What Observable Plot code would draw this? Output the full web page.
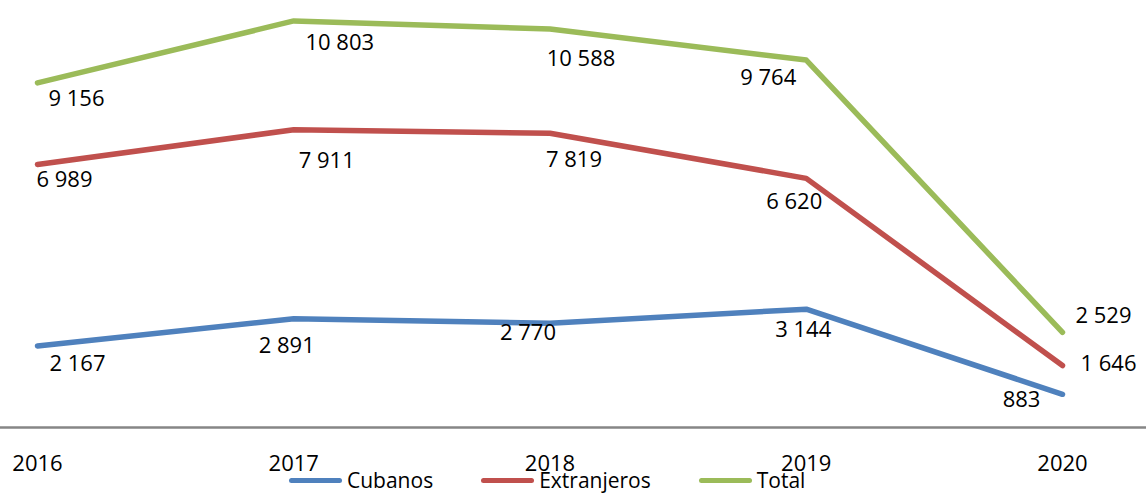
<!DOCTYPE html>
<html>
<head>
<meta charset="utf-8">
<script src="https://cdn.jsdelivr.net/npm/d3@7"></script>
<script src="https://cdn.jsdelivr.net/npm/@observablehq/plot@0.6"></script>
<style>
  html, body { margin: 0; padding: 0; background: #fff; }
  #wrap { position: relative; width: 1146px; height: 494px; overflow: hidden; font-family: "Open Sans", sans-serif; }
  #legend { position: absolute; top: 469px; left: 289px; display: flex; align-items: center; font-size: 21px; color: #000; line-height: 22px; }
  #legend .item { display: flex; align-items: center; margin-right: 48px; }
  #legend .sw { width: 53px; height: 5px; border-radius: 3px; margin-right: 5px; }
</style>
</head>
<body>
<div id="wrap"><div id="legend"></div></div>
<script>
const years = [2016, 2017, 2018, 2019, 2020];
const seriesNames = ["Cubanos", "Extranjeros", "Total"];
const cubanos = [2167, 2891, 2770, 3144, 883];
const extranjeros = [6989, 7911, 7819, 6620, 1646];
const total = [9156, 10803, 10588, 9764, 2529];
const colors = ["#4F81BD", "#C0504D", "#9BBB59"];

// label offsets (style only), [dx, dy] per series per year
const labelOffsets = [
  [[40, 18], [-7, 27], [-22, 10], [-3, 21], [-41, 6]],
  [[27, 15], [33, 31], [24, 27], [-12, 24], [46, -2]],
  [[39, 16], [46, 22], [31, 30], [-38, 18], [41, -16]]
];

const seriesValues = [cubanos, extranjeros, total];
const rows = [];
seriesValues.forEach((vals, s) => {
  vals.forEach((v, i) => rows.push({series: seriesNames[s], year: years[i], value: v, si: s, yi: i}));
});

const fmt = d3.formatLocale({decimal: ",", thousands: " ", grouping: [3], currency: ["", ""]}).format(",d");

const labelMarks = rows.map(r => Plot.text([r], {
  x: "year", y: "value", text: d => fmt(d.value),
  dx: labelOffsets[r.si][r.yi][0], dy: labelOffsets[r.si][r.yi][1],
  fontSize: 22, fill: "#000", textAnchor: "middle"
}));

const chart = Plot.plot({
  width: 1146,
  height: 494,
  marginTop: 13,
  marginBottom: 67,
  marginLeft: 0,
  marginRight: 0,
  style: {fontFamily: "'Open Sans', sans-serif", background: "transparent", overflow: "visible"},
  x: {domain: [2016, 2020], insetLeft: 37, insetRight: 84},
  y: {domain: [0, 11000], axis: null},
  color: {domain: seriesNames, range: colors},
  marks: [
    Plot.ruleY([0], {stroke: "#868686", strokeWidth: 2.5}),
    Plot.axisX({ticks: years, tickFormat: d => String(d), tickSize: 0, tickPadding: 28, fontSize: 22, label: null, fill: "#000"}),
    Plot.lineY(rows, {x: "year", y: "value", z: "series", stroke: "series", strokeWidth: 5.5, strokeLinecap: "round", strokeLinejoin: "round"}),
    ...labelMarks
  ]
});
document.getElementById("wrap").prepend(chart);

const legend = document.getElementById("legend");
seriesNames.forEach((name, i) => {
  const item = document.createElement("div");
  item.className = "item";
  const sw = document.createElement("span");
  sw.className = "sw";
  sw.style.background = colors[i];
  const t = document.createElement("span");
  t.textContent = name;
  item.append(sw, t);
  legend.append(item);
});
</script>
</body>
</html>
